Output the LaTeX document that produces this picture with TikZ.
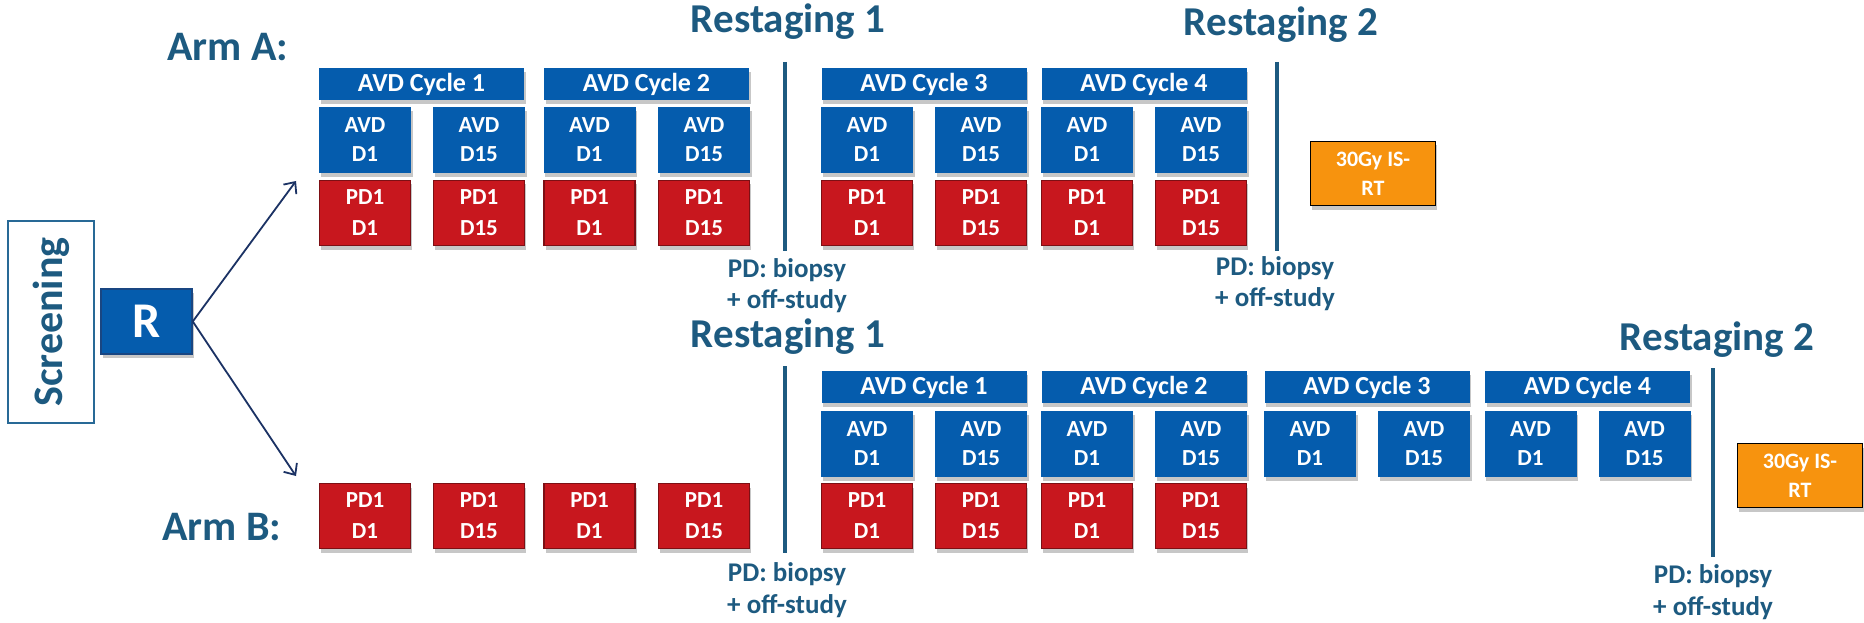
\documentclass[tikz,border=0pt]{standalone}
\usepackage{fontspec}
\setmainfont{Carlito}
\usetikzlibrary{arrows.meta,shadows}
\definecolor{avdblue}{RGB}{5,92,173}
\definecolor{avdedge}{RGB}{25,70,130}
\definecolor{pdred}{RGB}{200,23,30}
\definecolor{pdedge}{RGB}{125,15,20}
\definecolor{rtorange}{RGB}{247,147,14}
\definecolor{inkblue}{RGB}{29,90,128}
\definecolor{scredge}{RGB}{40,105,150}
\definecolor{arrowblue}{RGB}{27,50,100}
\tikzset{
  box/.style={inner sep=0pt, text=white, align=center,
    drop shadow={shadow xshift=1.5pt,shadow yshift=-4pt,opacity=0.22,fill=black}},
  hdr/.style={box, fill=avdblue, minimum width=205pt, minimum height=32pt,
    font=\bfseries\fontsize{26}{30}\selectfont},
  avd/.style={box, fill=avdblue, minimum width=92pt, minimum height=66pt,
    font=\bfseries\fontsize{23}{29}\selectfont},
  pdbox/.style={box, fill=pdred, draw=pdedge, line width=1.5pt, minimum width=91pt,
    minimum height=65pt, font=\bfseries\fontsize{23}{31}\selectfont},
  rtbox/.style={box, fill=rtorange, draw=black, line width=1.5pt, minimum width=125pt,
    minimum height=64pt, font=\bfseries\fontsize{22}{29}\selectfont},
  rbox/.style={box, fill=avdblue, draw=avdedge, line width=1.5pt, minimum width=91pt,
    minimum height=65pt, font=\bfseries\fontsize{50}{60}\selectfont},
  lbl/.style={text=inkblue, inner sep=0pt, font=\bfseries\fontsize{27}{31}\selectfont},
  big/.style={text=inkblue, inner sep=0pt, font=\bfseries\fontsize{41}{48}\selectfont},
  armlbl/.style={text=inkblue, inner sep=0pt, font=\bfseries\fontsize{42}{48}\selectfont},
  vline/.style={draw=inkblue, line width=4pt},
  arr/.style={draw=arrowblue, line width=1.8pt, -{Straight Barb[length=9pt,width=16pt]}}
}
\begin{document}
\begin{tikzpicture}[x=1pt,y=-1pt]
\useasboundingbox[fill=white] (0,0) rectangle (1864,623);

% Screening and R
\node[draw=scredge, line width=2pt, rotate=90, minimum width=202pt, minimum height=86pt,
  text=inkblue, font=\bfseries\fontsize{42}{50}\selectfont, inner sep=0pt] (scr) at (51,322) {Screening};
\node[rbox] (R) at (146.5,321.5) {R};
\coordinate (tA) at (296,181);
\coordinate (tB) at (296,476);
\draw[arr] (R.east) -- (tA);
\draw[arr] (R.east) -- (tB);

% Arm labels
\node[armlbl, anchor=base west] (armA) at (167,61) {Arm A:};
\node[armlbl, anchor=base west] (armB) at (162,540) {Arm B:};

% Arm A
\foreach \x [count=\i] in {421.5,646.5,924,1144}
  \node[hdr] (hA\i) at (\x,84) {AVD Cycle \i};
\foreach \x/\d [count=\i] in {365/D1,479/D15,589.5/D1,704/D15,867/D1,981/D15,1087/D1,1201/D15} {
  \node[avd] (aA\i) at (\x,140) {AVD\\\d};
  \node[pdbox] (pA\i) at (\x,213) {PD1\\\d};
}
\node[rtbox] (rtA) at (1373,173.5) {30Gy IS-\\RT};

% Arm B
\foreach \x [count=\i] in {924,1144,1367,1587.5}
  \node[hdr] (hB\i) at (\x,387) {AVD Cycle \i};
\foreach \x/\d [count=\i] in {867/D1,981/D15,1087/D1,1201/D15,1310/D1,1424/D15,1530.5/D1,1644.5/D15}
  \node[avd] (aB\i) at (\x,444) {AVD\\\d};
\foreach \x/\d [count=\i] in {365/D1,479/D15,589.5/D1,704/D15,867/D1,981/D15,1087/D1,1201/D15}
  \node[pdbox] (pB\i) at (\x,516) {PD1\\\d};
\node[rtbox] (rtB) at (1800,475.5) {30Gy IS-\\RT};

% Restaging lines
\coordinate (lA1t) at (785,62);  \coordinate (lA1b) at (785,251);
\coordinate (lA2t) at (1277,62); \coordinate (lA2b) at (1277,251);
\coordinate (lB1t) at (785,366); \coordinate (lB1b) at (785,553);
\coordinate (lB2t) at (1713,368); \coordinate (lB2b) at (1713,557);
\draw[vline] (lA1t) -- (lA1b);
\draw[vline] (lA2t) -- (lA2b);
\draw[vline] (lB1t) -- (lB1b);
\draw[vline] (lB2t) -- (lB2b);

% Restaging titles
\node[big, anchor=base] (rA1) at (788,33) {Restaging 1};
\node[big, anchor=base] (rA2) at (1281,36) {Restaging 2};
\node[big, anchor=base] (rB1) at (788,347) {Restaging 1};
\node[big, anchor=base] (rB2) at (1717,350) {Restaging 2};

% PD labels
\node[lbl, anchor=base] (pdA1) at (787,277) {PD: biopsy};
\node[lbl, anchor=base] (ofA1) at (787,308) {+ off-study};
\node[lbl, anchor=base] (pdA2) at (1275,275) {PD: biopsy};
\node[lbl, anchor=base] (ofA2) at (1275,306) {+ off-study};
\node[lbl, anchor=base] (pdB1) at (787,581) {PD: biopsy};
\node[lbl, anchor=base] (ofB1) at (787,613) {+ off-study};
\node[lbl, anchor=base] (pdB2) at (1713,583) {PD: biopsy};
\node[lbl, anchor=base] (ofB2) at (1713,615) {+ off-study};
\end{tikzpicture}
\end{document}
